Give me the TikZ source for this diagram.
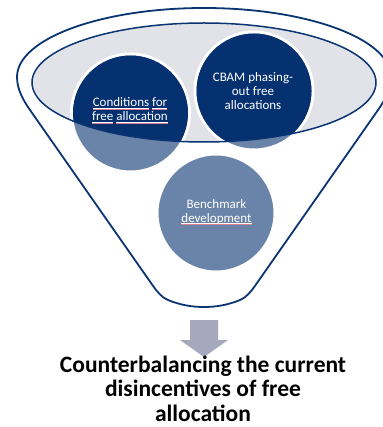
\documentclass[tikz,border=0pt]{standalone}
\usepackage{fontspec}
\setmainfont{Carlito}
\definecolor{navy}{HTML}{0B3472}
\definecolor{deepfill}{HTML}{053170}
\definecolor{steel}{HTML}{6A84A9}
\definecolor{rimgray}{HTML}{E1E3E9}
\definecolor{arrowgray}{HTML}{A6A9BD}
\definecolor{squig}{HTML}{D4808F}
% underlined word with a faint reddish mark below it
\newcommand\spellmark[1]{\setbox0\hbox{#1}\leavevmode
  \rlap{\rule[-1.6pt]{\wd0}{0.5pt}}%
  \rlap{\textcolor{squig}{\rule[-2.6pt]{\wd0}{0.45pt}}}\box0\relax}

\begin{document}
\begin{tikzpicture}[x=1pt,y=-1pt,
  funnelline/.style={draw=navy,line width=1.8pt,line join=round},
  rimline/.style={draw=navy,line width=1.5pt},
  ball/.style={circle,minimum size=118pt,inner sep=0pt,fill=steel,draw=white,line width=3pt},
  balltext/.style={text=white,font=\fontsize{13}{14}\selectfont,align=center,inner sep=0pt},
  captiontext/.style={text=black,font=\fontsize{23.5}{24.5}\selectfont\bfseries,align=center,inner sep=0pt}]
\useasboundingbox (0,0) rectangle (382,427);

% funnel outline
\draw[funnelline] (17,77) arc[start angle=180,end angle=360,x radius=187,y radius=69]
  .. controls (391,89) and (384.9,100.2) .. (378,110)
  -- (254.9,286)
  .. controls (251.5,290.9) and (246,297.9) .. (240,300)
  .. controls (228,305) and (216,307) .. (204,307)
  .. controls (192,307) and (180,305) .. (168,300)
  .. controls (162,297.9) and (156.5,290.9) .. (153.1,286)
  -- (30,110)
  .. controls (23.1,100.2) and (17,89) .. (17,77) -- cycle;

% funnel rim
\coordinate (rim) at (204,82.5);
\fill[rimgray] (rim) ellipse[x radius=172,y radius=59.5];

% circles
\node[ball] (c1) at (130.5,113) {};
\node[ball] (c2) at (254,91) {};
\node[ball] (c3) at (216,213) {};

% darker part of the circles inside the rim
\begin{scope}
  \clip (rim) ellipse[x radius=172,y radius=59.5];
  \fill[deepfill] (c1.center) circle[radius=57.5];
  \fill[deepfill] (c2.center) circle[radius=57.5];
\end{scope}
\draw[rimline] (rim) ellipse[x radius=172,y radius=59.5];

% circle labels
\node[balltext] (t1) at (130,110.5) {\spellmark{Conditions} \spellmark{for}\\\spellmark{free} \spellmark{allocation}};
\node[balltext] (t2) at (253,91) {CBAM phasing-\\out free\\allocations};
\node[balltext] (t3) at (216.5,211.8) {Benchmark\\\spellmark{development}};

% down arrow
\fill[arrowgray] (190,320) -- (218,320) -- (218,340) -- (228,340) -- (204,357)
  -- (180,340) -- (190,340) -- cycle;

% caption
\node[captiontext] (caption) at (203,388.5) {Counterbalancing the current\\disincentives of free\\allocation};
\end{tikzpicture}
\end{document}
